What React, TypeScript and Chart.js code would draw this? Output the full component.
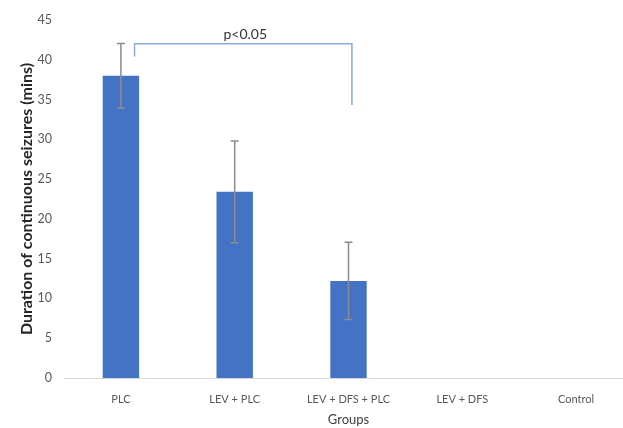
import React, { useEffect, useRef } from "react";
import { Chart, registerables } from "chart.js";

Chart.register(...registerables);

const categories = ["PLC", "LEV + PLC", "LEV + DFS + PLC", "LEV + DFS", "Control"];
const means: (number | null)[] = [38, 23.4, 12.2, null, null];
const errors: (number | null)[] = [4.05, 6.4, 4.85, null, null];
const yTicksMax = 45;
const yStep = 5;
// significance bracket: between group indexes, top value, leg end values
const bracketGroups = [0, 2];
const bracketTop = 42;
const bracketLegEnds = [40.4, 34.3];
const bracketLabel = "p<0.05";

const FONT = "Lato, 'Open Sans', sans-serif";

const errorBarPlugin = {
  id: "errorBars",
  afterDatasetsDraw(chart: any) {
    const { ctx, scales } = chart;
    const x = scales.x;
    const y = scales.y;
    ctx.save();
    ctx.strokeStyle = "#8c8c8c";
    ctx.lineWidth = 1.5;
    means.forEach((m, i) => {
      const e = errors[i];
      if (m == null || e == null) return;
      const cx = x.getPixelForValue(i);
      const yt = y.getPixelForValue(m + e);
      const yb = y.getPixelForValue(m - e);
      ctx.beginPath();
      ctx.moveTo(cx, yt);
      ctx.lineTo(cx, yb);
      ctx.moveTo(cx - 4, yt);
      ctx.lineTo(cx + 4, yt);
      ctx.moveTo(cx - 4, yb);
      ctx.lineTo(cx + 4, yb);
      ctx.stroke();
    });
    // bracket
    const cw = x.getPixelForValue(1) - x.getPixelForValue(0);
    const lx = x.getPixelForValue(bracketGroups[0]) + cw * 0.12;
    const rx = x.getPixelForValue(bracketGroups[1]) + cw * 0.03;
    const ty = y.getPixelForValue(bracketTop);
    ctx.strokeStyle = "#8eaad8";
    ctx.lineWidth = 1.5;
    ctx.beginPath();
    ctx.moveTo(lx, y.getPixelForValue(bracketLegEnds[0]));
    ctx.lineTo(lx, ty);
    ctx.lineTo(rx, ty);
    ctx.lineTo(rx, y.getPixelForValue(bracketLegEnds[1]));
    ctx.stroke();
    ctx.fillStyle = "#333333";
    ctx.font = `14px ${FONT}`;
    ctx.textAlign = "center";
    ctx.textBaseline = "middle";
    ctx.fillText(bracketLabel, (lx + rx) / 2 + 2, ty - 9);
    ctx.restore();
  },
};

export default function App() {
  const ref = useRef<HTMLCanvasElement>(null);
  useEffect(() => {
    if (!ref.current) return;
    const chart = new Chart(ref.current, {
      type: "bar",
      data: {
        labels: categories,
        datasets: [
          {
            data: means as any,
            backgroundColor: "#4472c4",
            borderWidth: 0,
            barPercentage: 0.32,
            categoryPercentage: 1,
          },
        ],
      },
      options: {
        animation: false,
        responsive: false,
        layout: { padding: { top: 20, left: 0, right: 0, bottom: 0 } },
        plugins: { legend: { display: false }, tooltip: { enabled: false } },
        scales: {
          x: {
            grid: { display: false, drawTicks: false },
            border: { display: true, color: "#d9d9d9", width: 1 },
            ticks: { color: "#595959", font: { family: FONT, size: 11 }, padding: 15, maxRotation: 0 },
            title: {
              display: true,
              text: "Groups",
              color: "#404040",
              font: { family: FONT, size: 13 },
              padding: { top: 0, bottom: 0 },
            },
            afterFit: (s: any) => {
              s.height = 50;
            },
          },
          y: {
            min: 0,
            max: yTicksMax,
            grid: { display: false, drawTicks: false },
            border: { display: false },
            ticks: { stepSize: yStep, color: "#595959", font: { family: FONT, size: 12.5 }, padding: 12 },
            title: {
              display: true,
              text: "Duration of continuous seizures (mins)",
              color: "#262626",
              font: { family: FONT, size: 16, weight: "bold" },
              padding: { top: 17, bottom: 0 },
            },
            afterFit: (s: any) => {
              s.width = 64;
            },
          },
        },
      },
      plugins: [errorBarPlugin],
    });
    return () => chart.destroy();
  }, []);
  return (
    <div style={{ position: "absolute", left: 0, top: 0, width: 623, height: 428, overflow: "hidden", background: "#fff" }}>
      <canvas ref={ref} width={633} height={428} style={{ display: "block" }} />
    </div>
  );
}
